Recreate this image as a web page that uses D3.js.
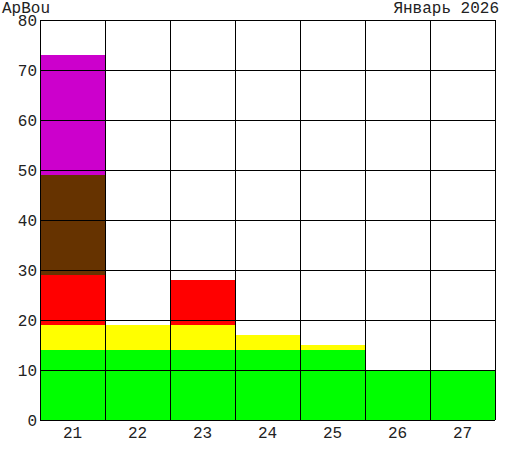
<!DOCTYPE html>
<html>
<head>
<meta charset="utf-8">
<script src="https://cdn.jsdelivr.net/npm/d3@7"></script>
<style>
  body { margin: 0; background: #fff; }
  text { font-family: "Liberation Mono", "DejaVu Sans Mono", monospace; font-size: 16px; fill: #222; }
</style>
</head>
<body>
<svg width="515" height="460"></svg>
<script>
// Days of the month along the x axis
const days = ["21", "22", "23", "24", "25", "26", "27"];

// Stacked layers, bottom to top
const green = [14, 14, 14, 14, 14, 10, 10];
const yellow = [5, 5, 5, 3, 1, 0, 0];
const red = [10, 0, 9, 0, 0, 0, 0];
const brown = [20, 0, 0, 0, 0, 0, 0];
const magenta = [24, 0, 0, 0, 0, 0, 0];

const yTicks = [0, 10, 20, 30, 40, 50, 60, 70, 80];
const titleLeft = "ApBou";
const titleRight = "Январь 2026";

const svg = d3.select("svg"),
  width = +svg.attr("width"),
  height = +svg.attr("height"),
  margin = { top: 20, right: 20, bottom: 40, left: 40 };

const layers = [
  { key: "green", values: green, color: "#00ff00" },
  { key: "yellow", values: yellow, color: "#ffff00" },
  { key: "red", values: red, color: "#ff0000" },
  { key: "brown", values: brown, color: "#663300" },
  { key: "magenta", values: magenta, color: "#cc00cc" }
];

// build table for d3.stack
const table = days.map((d, i) => {
  const row = { day: d };
  layers.forEach((l) => (row[l.key] = l.values[i]));
  return row;
});
const stacked = d3.stack().keys(layers.map((l) => l.key))(table);

const x = d3.scaleBand().domain(days).range([margin.left, width - margin.right]).padding(0);
const y = d3.scaleLinear().domain([0, 80]).range([height - margin.bottom, margin.top]);

// bars
svg.append("g")
  .selectAll("g")
  .data(stacked)
  .join("g")
  .attr("fill", (s, i) => layers[i].color)
  .selectAll("rect")
  .data((s) => s)
  .join("rect")
  .attr("x", (d) => x(d.data.day))
  .attr("y", (d) => y(d[1]))
  .attr("width", x.bandwidth())
  .attr("height", (d) => y(d[0]) - y(d[1]));

// grid lines on top of bars
const grid = svg.append("g").attr("stroke", "#000").attr("stroke-width", 1).attr("shape-rendering", "crispEdges");
grid.selectAll(".h")
  .data(yTicks)
  .join("line")
  .attr("x1", margin.left)
  .attr("x2", width - margin.right)
  .attr("y1", (d) => Math.round(y(d)) + 0.5)
  .attr("y2", (d) => Math.round(y(d)) + 0.5);
const edges = days.map((d) => x(d)).concat([width - margin.right]);
grid.selectAll(".v")
  .data(edges)
  .join("line")
  .attr("x1", (d) => Math.round(d) + 0.5)
  .attr("x2", (d) => Math.round(d) + 0.5)
  .attr("y1", margin.top)
  .attr("y2", height - margin.bottom);

// y tick labels
svg.append("g")
  .selectAll("text")
  .data(yTicks)
  .join("text")
  .attr("x", margin.left - 3)
  .attr("y", (d) => y(d))
  .attr("dy", "0.35em")
  .attr("text-anchor", "end")
  .text((d) => d);

// x tick labels
svg.append("g")
  .selectAll("text")
  .data(days)
  .join("text")
  .attr("x", (d) => x(d) + x.bandwidth() / 2)
  .attr("y", height - margin.bottom + 12)
  .attr("dy", "0.35em")
  .attr("text-anchor", "middle")
  .text((d) => d);

// titles
svg.append("text").attr("x", 2).attr("y", 13).text(titleLeft);
svg.append("text").attr("x", width - 16).attr("y", 13).attr("text-anchor", "end").text(titleRight);
</script>
</body>
</html>
